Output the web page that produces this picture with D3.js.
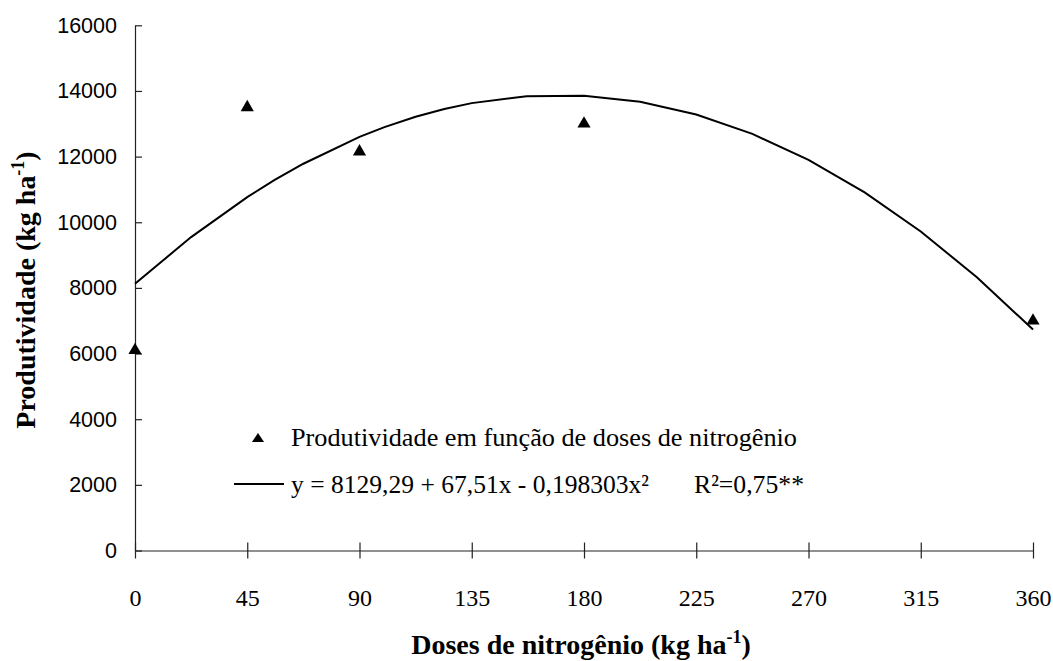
<!DOCTYPE html>
<html>
<head>
<meta charset="utf-8">
<script src="https://cdn.jsdelivr.net/npm/d3@7"></script>
<style>
  body { margin: 0; background: #fff; }
</style>
</head>
<body>
<script>
// observed points
var doses = [0, 45, 90, 180, 360];
var produtividade = [6100, 13500, 12150, 13000, 7000];

// fitted curve
var curveX = [0, 22.5, 45, 56, 67.5, 90, 100, 112.5, 124, 135, 157, 180, 202.5, 225, 247.5, 270, 292.5, 315, 337.5, 360];
var curveY = [8129, 9548, 10766, 11288, 11783, 12599, 12897, 13214, 13451, 13629, 13840, 13856, 13669, 13280, 12691, 11901, 10910, 9718, 8325, 6733];

var xTicks = [0, 45, 90, 135, 180, 225, 270, 315, 360];
var yTicks = [0, 2000, 4000, 6000, 8000, 10000, 12000, 14000, 16000];

var legendLabels = ["Produtividade em função de doses de nitrogênio",
                    "y = 8129,29 + 67,51x - 0,198303x²", "R²=0,75**"];

var width = 1053;
var height = 661;
var serif = "'Liberation Serif', 'Times New Roman', serif";

var svg = d3.select("body")
    .append("svg")
    .attr("width", width)
    .attr("height", height);

// scales
var x = d3.scaleLinear().domain([0, 360]).range([135, 1033]);
var y = d3.scaleLinear().domain([0, 16000]).range([550.5, 25.3]);

// x axis
var xAxis = svg.append("g")
    .attr("transform", "translate(0," + y(0) + ")")
    .call(d3.axisBottom(x).tickValues(xTicks).tickSize(8).tickSizeOuter(0).tickPadding(30));
xAxis.selectAll(".tick line").attr("y1", -8);
xAxis.selectAll("text")
    .style("font-family", serif)
    .style("font-size", "24px")
    .attr("fill", "#000");

// y axis
var yAxis = svg.append("g")
    .attr("transform", "translate(" + x(0) + ",0)")
    .call(d3.axisLeft(y).tickValues(yTicks).tickFormat(d3.format("d")).tickSize(7).tickSizeOuter(0).tickPadding(11));
yAxis.selectAll(".tick line").attr("x2", 7);
yAxis.selectAll("text")
    .style("font-family", "'Liberation Sans', Arial, sans-serif")
    .style("font-size", "21.5px")
    .attr("fill", "#000");

svg.selectAll(".domain, .tick line").attr("stroke", "#222").attr("stroke-width", 1.2);

// curve
var line = d3.line()
    .x(function(d, i) { return x(curveX[i]); })
    .y(function(d) { return y(d); });

svg.append("path")
    .datum(curveY)
    .attr("d", line)
    .attr("fill", "none")
    .attr("stroke", "#000")
    .attr("stroke-width", 2);

// points
var tri = d3.symbol().type(d3.symbolTriangle).size(75);
svg.append("g")
    .selectAll("path")
    .data(produtividade)
    .enter()
    .append("path")
    .attr("d", tri)
    .attr("transform", function(d, i) {
        return "translate(" + x(doses[i]) + "," + y(d) + ")";
    })
    .attr("fill", "#000");

// legend
svg.append("path")
    .attr("d", d3.symbol().type(d3.symbolTriangle).size(48))
    .attr("transform", "translate(258,439) scale(1.15,1)")
    .attr("fill", "#000");

svg.append("line")
    .attr("x1", 234).attr("x2", 284)
    .attr("y1", 484).attr("y2", 484)
    .attr("stroke", "#000")
    .attr("stroke-width", 2);

svg.append("text")
    .attr("x", 291).attr("y", 446)
    .attr("textLength", 506).attr("lengthAdjust", "spacingAndGlyphs")
    .style("font-family", serif).style("font-size", "26px")
    .text(legendLabels[0]);

svg.append("text")
    .attr("x", 291).attr("y", 493)
    .attr("textLength", 358).attr("lengthAdjust", "spacingAndGlyphs")
    .style("font-family", serif).style("font-size", "26px")
    .text(legendLabels[1]);

svg.append("text")
    .attr("x", 694).attr("y", 493)
    .attr("textLength", 110).attr("lengthAdjust", "spacingAndGlyphs")
    .style("font-family", serif).style("font-size", "26px")
    .text(legendLabels[2]);

// axis titles
var xTitle = svg.append("text")
    .attr("x", 581).attr("y", 654)
    .attr("text-anchor", "middle")
    .style("font-family", serif).style("font-size", "28px").style("font-weight", "bold")
    .text("Doses de nitrogênio (kg ha");
xTitle.append("tspan").attr("dy", -11).style("font-size", "18px").text("-1");
xTitle.append("tspan").attr("dy", 11).text(")");

var yTitle = svg.append("text")
    .attr("transform", "translate(35,290) rotate(-90)")
    .attr("text-anchor", "middle")
    .style("font-family", serif).style("font-size", "28px").style("font-weight", "bold")
    .text("Produtividade (kg ha");
yTitle.append("tspan").attr("dy", -11).style("font-size", "18px").text("-1");
yTitle.append("tspan").attr("dy", 11).text(")");
</script>
</body>
</html>
